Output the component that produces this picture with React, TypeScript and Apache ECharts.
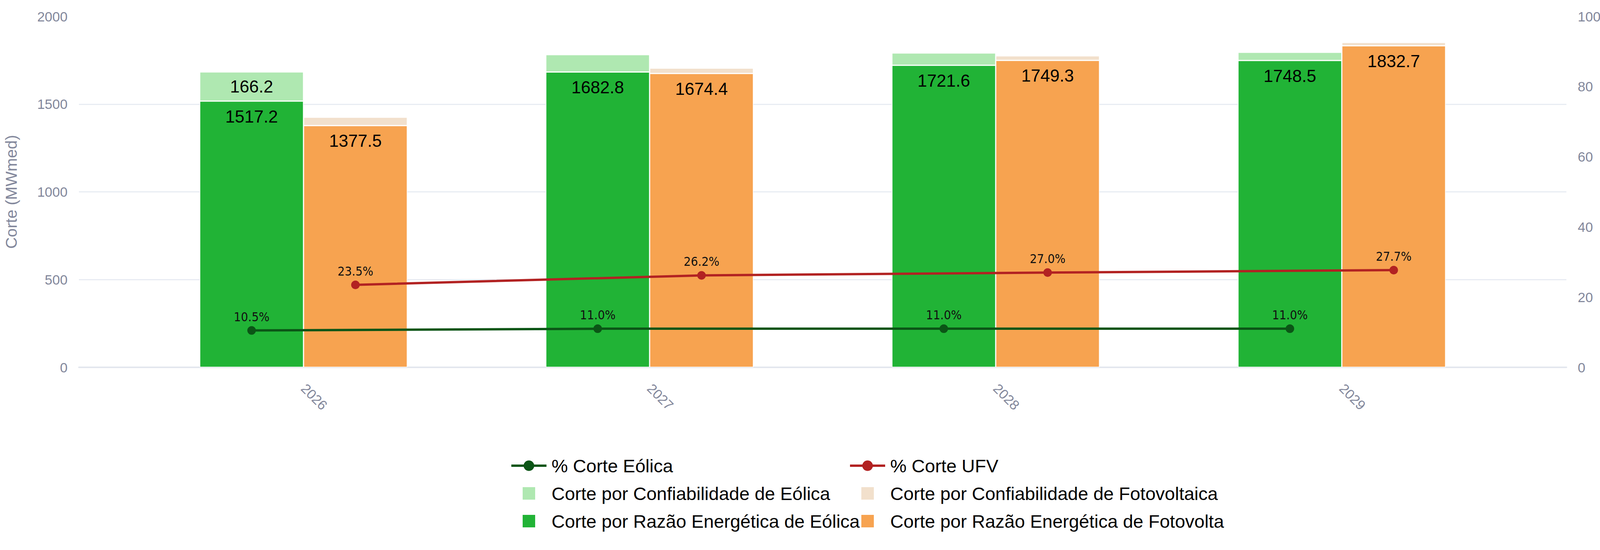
import React, { useEffect, useRef } from "react";
import * as echarts from "echarts";

const years = ["2026", "2027", "2028", "2029"];
const razaoEolica = [1517.2, 1682.8, 1721.6, 1748.5];
const confEolica = [166.2, 99, 70, 47];
const razaoFV = [1377.5, 1674.4, 1749.3, 1832.7];
const confFV = [48, 31, 26, 19];
const pctEolica = [10.5, 11.0, 11.0, 11.0];
const pctUFV = [23.5, 26.2, 27.0, 27.7];

const leftTicks = { min: 0, max: 2000, interval: 500 };
const rightTicks = { min: 0, max: 100, interval: 20 };

const N_PCT_EOL = "% Corte Eólica";
const N_PCT_UFV = "% Corte UFV";
const N_CONF_EOL = "Corte por Confiabilidade de Eólica";
const N_CONF_FV = "Corte por Confiabilidade de Fotovoltaica";
const N_RAZ_EOL = "Corte por Razão Energética de Eólica";
const N_RAZ_FV = "Corte por Razão Energética de Fotovolta";

const FONT = "Liberation Sans, Arial, sans-serif";
const PT_FONT = "DejaVu Sans Condensed, Liberation Sans, sans-serif";
const GRAY = "#82879b";
const GRID_COLOR = "#e8ecf3";
const C_GREEN = "#21b336";
const C_LGREEN = "#afe8b1";
const C_ORANGE = "#f7a350";
const C_BEIGE = "#f2e0cc";
const C_DGREEN = "#0b5516";
const C_RED = "#b22222";

const LABEL_MIN = 120;
const BAR_OFFSET = 0.15;

export default function App() {
  const ref = useRef<HTMLDivElement>(null);
  useEffect(() => {
    document.body.style.margin = "0";
    document.body.style.overflow = "hidden";
    const chart = echarts.init(ref.current!, null, { renderer: "svg" });
    const squareIcon = "path://M0,0H10V10H0Z";
    const barLabel = {
      show: true,
      position: "insideTop",
      distance: 17,
      fontSize: 44,
      color: "#000",
      fontFamily: FONT,
      formatter: (p: any) => Number(p.value).toFixed(1),
    };
    const ptLabel = {
      show: true,
      position: "top",
      distance: 8,
      fontSize: 32,
      color: "#111",
      fontFamily: PT_FONT,
      formatter: (p: any) => Number(p.value[1]).toFixed(1) + "%",
    };
    const legendBase = {
      orient: "vertical",
      top: 1163,
      itemWidth: 90,
      itemHeight: 34,
      itemGap: 21,
      textStyle: {
        fontSize: 47,
        lineHeight: 50,
        color: "#000",
        fontFamily: FONT,
        padding: [0, 0, 0, 8],
      },
      selectedMode: false,
    };
    const option: any = {
      animation: false,
      backgroundColor: "#fff",
      grid: [
        { left: 201, right: 244, top: 42, bottom: 468 },
        { left: 334, right: 376, top: 42, bottom: 468 },
      ],
      legend: [
        {
          ...legendBase,
          left: 1301,
          data: [
            { name: N_PCT_EOL, lineStyle: { width: 6 } },
            { name: N_CONF_EOL, icon: squareIcon },
            { name: N_RAZ_EOL, icon: squareIcon },
          ],
        },
        {
          ...legendBase,
          left: 2168,
          data: [
            { name: N_PCT_UFV, lineStyle: { width: 6 } },
            { name: N_CONF_FV, icon: squareIcon },
            { name: N_RAZ_FV, icon: squareIcon },
          ],
        },
      ],
      xAxis: [
        {
          gridIndex: 0,
          type: "value",
          min: 0,
          max: 1,
          axisLine: { show: true, lineStyle: { color: "#e3e7ee", width: 4 } },
          axisTick: { show: false },
          axisLabel: { show: false },
          splitLine: { show: false },
          z: 0,
        },
        {
          gridIndex: 1,
          type: "category",
          data: years,
          axisLine: { show: false },
          axisTick: { show: false },
          axisLabel: {
            rotate: -45,
            margin: 48,
            fontSize: 35,
            color: GRAY,
            fontFamily: FONT,
          },
        },
        {
          gridIndex: 1,
          type: "value",
          min: -0.5,
          max: 3.5,
          show: false,
        },
      ],
      yAxis: [
        {
          gridIndex: 0,
          type: "value",
          position: "left",
          ...leftTicks,
          name: "Corte (MWmed)",
          nameLocation: "middle",
          nameRotate: 90,
          nameGap: 153,
          nameTextStyle: { fontSize: 41, color: GRAY, fontFamily: FONT },
          axisLine: { show: false },
          axisTick: { show: false },
          axisLabel: {
            fontSize: 35,
            color: GRAY,
            margin: 29,
            fontFamily: FONT,
            formatter: (v: number) => String(v),
          },
          splitLine: {
            show: true,
            showMinLine: false,
            showMaxLine: false,
            lineStyle: { color: GRID_COLOR, width: 3 },
          },
        },
        {
          gridIndex: 0,
          type: "value",
          position: "right",
          ...rightTicks,
          name: "% do Corte",
          nameLocation: "middle",
          nameRotate: 90,
          nameGap: 118,
          nameTextStyle: { fontSize: 41, color: GRAY, fontFamily: FONT },
          axisLine: { show: false },
          axisTick: { show: false },
          axisLabel: {
            fontSize: 35,
            color: GRAY,
            margin: 29,
            fontFamily: FONT,
            formatter: (v: number) => String(v),
          },
          splitLine: { show: false },
        },
        { gridIndex: 1, type: "value", ...leftTicks, show: false },
        { gridIndex: 1, type: "value", ...rightTicks, show: false },
      ],
      series: [
        {
          name: N_RAZ_EOL,
          type: "bar",
          xAxisIndex: 1,
          yAxisIndex: 2,
          stack: "eol",
          barCategoryGap: "40%",
          barGap: "0%",
          data: razaoEolica,
          itemStyle: { color: C_GREEN, borderColor: "#fff", borderWidth: 1.5 },
          label: barLabel,
        },
        {
          name: N_CONF_EOL,
          type: "bar",
          xAxisIndex: 1,
          yAxisIndex: 2,
          stack: "eol",
          data: confEolica.map((v) => ({
            value: v,
            label: { show: v >= LABEL_MIN },
          })),
          itemStyle: { color: C_LGREEN, borderColor: "#fff", borderWidth: 1.5 },
          label: { ...barLabel, position: "inside", distance: 0 },
        },
        {
          name: N_RAZ_FV,
          type: "bar",
          xAxisIndex: 1,
          yAxisIndex: 2,
          stack: "fv",
          data: razaoFV,
          itemStyle: { color: C_ORANGE, borderColor: "#fff", borderWidth: 1.5 },
          label: barLabel,
        },
        {
          name: N_CONF_FV,
          type: "bar",
          xAxisIndex: 1,
          yAxisIndex: 2,
          stack: "fv",
          data: confFV.map((v) => ({
            value: v,
            label: { show: v >= LABEL_MIN },
          })),
          itemStyle: { color: C_BEIGE, borderColor: "#fff", borderWidth: 1.5 },
          label: { ...barLabel, position: "inside", distance: 0 },
        },
        {
          name: N_PCT_EOL,
          type: "line",
          xAxisIndex: 2,
          yAxisIndex: 3,
          data: pctEolica.map((v, i) => [i - BAR_OFFSET, v]),
          symbol: "circle",
          symbolSize: 22,
          lineStyle: { color: C_DGREEN, width: 6 },
          itemStyle: { color: C_DGREEN },
          label: ptLabel,
          z: 5,
        },
        {
          name: N_PCT_UFV,
          type: "line",
          xAxisIndex: 2,
          yAxisIndex: 3,
          data: pctUFV.map((v, i) => [i + BAR_OFFSET, v]),
          symbol: "circle",
          symbolSize: 22,
          lineStyle: { color: C_RED, width: 6 },
          itemStyle: { color: C_RED },
          label: ptLabel,
          z: 5,
        },
      ],
    };
    chart.setOption(option);
    return () => chart.dispose();
  }, []);
  return <div ref={ref} style={{ width: 4254, height: 1409 }} />;
}
